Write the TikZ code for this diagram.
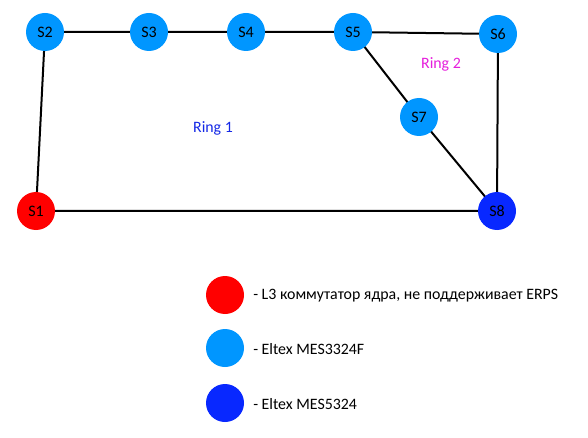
\documentclass[tikz,border=0pt]{standalone}
\usepackage{fontspec}
\setmainfont{Carlito}
\definecolor{coreRed}{RGB}{255,0,0}
\definecolor{lightBlue}{RGB}{0,150,255}
\definecolor{darkBlue}{RGB}{8,40,255}
\definecolor{ringOne}{RGB}{20,40,230}
\definecolor{ringTwo}{RGB}{230,30,220}
\begin{document}
\begin{tikzpicture}[x=0.75pt,y=-0.75pt,
  sw/.style={circle,minimum size=28.5pt,inner sep=0pt,font=\fontsize{12}{14}\selectfont,text=black},
  swcore/.style={sw,fill=coreRed},
  swlight/.style={sw,fill=lightBlue},
  swdark/.style={sw,fill=darkBlue},
  link/.style={draw=black,line width=1.5pt},
  legtext/.style={anchor=west,inner sep=0pt,font=\fontsize{11.9}{14}\selectfont},
  ringlabel/.style={font=\fontsize{11.9}{14}\selectfont}]
\useasboundingbox (0,0) rectangle (588,438);
\fill[white] (0,0) rectangle (588,438);
% links (drawn first, nodes on top)
\coordinate (pS1) at (36,211);
\coordinate (pS2) at (45,32);
\coordinate (pS3) at (149,32);
\coordinate (pS4) at (246,32);
\coordinate (pS5) at (353,32);
\coordinate (pS6) at (498,34);
\coordinate (pS7) at (419,117);
\coordinate (pS8) at (497,211);
\draw[link] (pS2) -- (pS3) -- (pS4) -- (pS5) -- (pS6) -- (pS8);
\draw[link] (pS5) -- (pS7) -- (pS8);
\draw[link] (pS2) -- (pS1) -- (pS8);
% nodes
\node[swcore]  (S1) at (pS1) {S1};
\node[swlight] (S2) at (pS2) {S2};
\node[swlight] (S3) at (pS3) {S3};
\node[swlight] (S4) at (pS4) {S4};
\node[swlight] (S5) at (pS5) {S5};
\node[swlight] (S6) at (pS6) {S6};
\node[swlight] (S7) at (pS7) {S7};
\node[swdark]  (S8) at (pS8) {S8};
% ring labels
\node[ringlabel,text=ringOne] (r1) at (213,128) {Ring 1};
\node[ringlabel,text=ringTwo] (r2) at (441,64) {Ring 2};
% legend
\node[swcore]  (L1) at (225,295) {};
\node[swlight] (L2) at (225,348) {};
\node[swdark]  (L3) at (225,403) {};
\node[legtext] (T1) at (253,296) {- L3 коммутатор ядра, не поддерживает ERPS};
\node[legtext] (T2) at (253,349) {- Eltex MES3324F};
\node[legtext] (T3) at (253,404) {- Eltex MES5324};
\end{tikzpicture}
\end{document}
